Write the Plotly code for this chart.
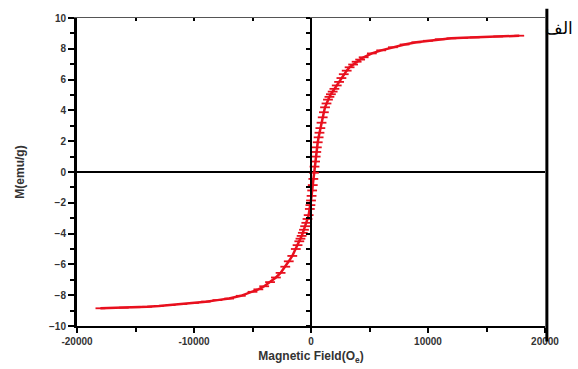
import plotly.graph_objects as go

# Data
field = [-18000, -17000, -16000, -15000, -14000, -13000, -12000, -11000, -10000,
         -9000, -8000, -7000, -6000, -5000, -4500, -4000, -3500, -3000, -2600,
         -2200, -1900, -1600, -1300, -1150, -1000, -900, -800, -700, -600, -500,
         -400, -300, -200, -100, -50, 0, 50,
         100, 150, 200, 250, 300, 350, 400, 450, 500, 575, 650, 725, 800, 900,
         1000, 1100, 1200, 1325, 1450, 1575, 1700, 1850, 2000, 2200, 2400, 2600,
         2800, 3050, 3300, 3600, 3900, 4200, 4500, 5200, 6000, 7000, 8000, 9000,
         10000, 11000, 12000, 13000, 14000, 15000, 16000, 17000, 17800]
magnet = [-8.85, -8.83, -8.81, -8.78, -8.75, -8.70, -8.64, -8.57, -8.50,
          -8.42, -8.32, -8.22, -8.04, -7.78, -7.62, -7.42, -7.15, -6.85, -6.55,
          -6.15, -5.80, -5.45, -5.00, -4.75, -4.50, -4.33, -4.15, -3.95, -3.75, -3.52,
          -3.30, -3.05, -2.80, -2.40, -2.15, -1.85, -1.55,
          -1.20, -0.85, -0.45, -0.05, 0.35, 0.68, 1.00, 1.30, 1.60, 1.93, 2.25, 2.55, 2.85, 3.20,
          3.55, 3.88, 4.20, 4.45, 4.70, 4.88, 5.05, 5.22, 5.40, 5.62, 5.85, 6.10,
          6.35, 6.58, 6.80, 6.98, 7.16, 7.30, 7.45, 7.70, 7.90, 8.10, 8.28, 8.42,
          8.52, 8.62, 8.68, 8.71, 8.74, 8.77, 8.80, 8.83, 8.85]

x_ticks = [-20000, -10000, 0, 10000, 20000]
x_ticklabels = ["-20000", "-10000", "0", "10000", "20000"]
y_ticks = [-10, -8, -6, -4, -2, 0, 2, 4, 6, 8, 10]

tickfont = dict(family="Liberation Sans", size=10, color="#333333", weight="bold")

fig = go.Figure()
fig.add_trace(go.Scatter(
    x=field, y=magnet, mode="lines+markers",
    line=dict(color="#e8101e", width=2.5),
    marker=dict(symbol="line-ew", size=7, line=dict(color="#e8101e", width=1.8)),
    showlegend=False,
))
# invisible traces to activate overlay axes
fig.add_trace(go.Scatter(x=[0], y=[0], xaxis="x2", yaxis="y2", mode="markers",
                         marker=dict(opacity=0), showlegend=False, hoverinfo="skip"))
fig.add_trace(go.Scatter(x=[0], y=[0], xaxis="x3", yaxis="y", mode="markers",
                         marker=dict(opacity=0), showlegend=False, hoverinfo="skip"))

fig.update_layout(
    width=578, height=369,
    margin=dict(l=77, r=33, t=18, b=43, autoexpand=False),
    paper_bgcolor="white", plot_bgcolor="white",
    xaxis=dict(
        range=[-20000, 20000], tickvals=x_ticks, ticktext=x_ticklabels,
        automargin=False,
        showgrid=False, zeroline=True, zerolinecolor="black", zerolinewidth=1.5,
        showline=True, linecolor="black", linewidth=2,
        ticks="outside", ticklen=5, tickwidth=2, tickcolor="black",
        minor=dict(dtick=5000, ticks="outside", ticklen=4, tickwidth=2, tickcolor="black"),
        tickfont=tickfont,
        title=dict(text="<b>Magnetic Field(O<sub>e</sub>)</b>",
                   font=dict(family="Liberation Sans", size=12, color="#333333"), standoff=6),
    ),
    yaxis=dict(
        range=[-10, 10], tickvals=y_ticks,
        automargin=False,
        showgrid=False, zeroline=True, zerolinecolor="black", zerolinewidth=1.5,
        showline=True, linecolor="black", linewidth=3,
        ticks="outside", ticklen=6, tickwidth=2, tickcolor="black",
        minor=dict(dtick=1, ticks="outside", ticklen=4, tickwidth=1.5, tickcolor="black"),
        tickfont=tickfont,
        title=dict(text="<b>M(emu/g)</b>",
                   font=dict(family="Liberation Sans", size=12, color="#333333"), standoff=22),
    ),
    xaxis2=dict(range=[-20000, 20000], overlaying="x", visible=False),
    yaxis2=dict(
        range=[-10, 10], overlaying="y", anchor="free", position=0.5, side="left",
        automargin=False,
        showgrid=False, zeroline=False, showline=True, linecolor="black", linewidth=1.5,
        ticks="outside", ticklen=4, tickwidth=1.5, tickcolor="black", dtick=1,
        showticklabels=False,
    ),
    xaxis3=dict(
        range=[-20000, 20000], overlaying="x", side="top", anchor="y",
        automargin=False,
        showgrid=False, zeroline=False, showline=True, linecolor="#555555", linewidth=1,
        ticks="inside", ticklen=3, tickwidth=2, tickcolor="black", dtick=5000,
        showticklabels=False,
    ),
    shapes=[
        dict(type="line", xref="paper", yref="paper", x0=1.004, x1=1.004,
             y0=-0.05, y1=1.03, line=dict(color="black", width=3)),
    ],
    annotations=[
        dict(text="الف", xref="paper", yref="paper", x=1.064, y=0.97,
             xanchor="right", yanchor="middle", showarrow=False,
             font=dict(family="Noto Sans", size=17, color="black")),
    ],
)

fig.write_html("out.html", config={"displayModeBar": False},
               post_script="document.body.style.margin='0';document.body.style.padding='0';")
